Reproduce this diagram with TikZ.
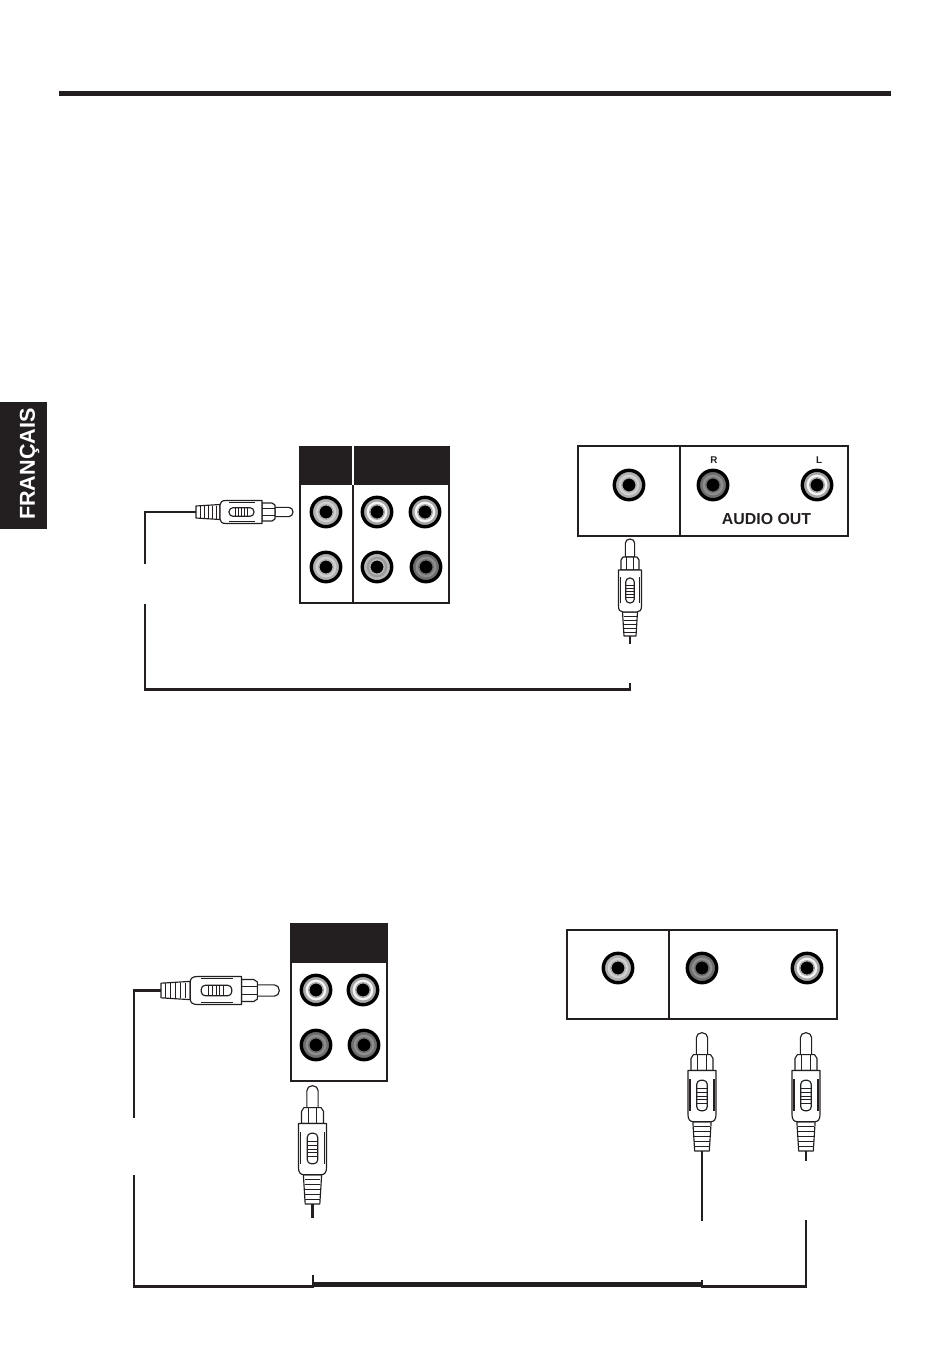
\documentclass[tikz,border=0pt]{standalone}
\usepackage{fontspec}
\setmainfont{Liberation Sans}
\definecolor{ink}{HTML}{231F20}
\definecolor{ringlight}{HTML}{B0B0B0}
\definecolor{midlight}{HTML}{D0D0D0}
\definecolor{ringpale}{HTML}{A6A6A6}
\definecolor{midpale}{HTML}{F4F4F4}
\definecolor{ringdark}{HTML}{6E6E6E}
\definecolor{middark}{HTML}{8E8E8E}
\definecolor{ringmid}{HTML}{B8B8B8}
\definecolor{midmid}{HTML}{9A9A9A}
\tikzset{
  wire/.style={draw=ink,line width=2.2pt},
  panel/.style={draw=ink,line width=2.2pt},
  plugline/.style={draw=ink,line width=1.15pt,fill=white,line join=round},
  jacklabel/.style={text=ink,inner sep=0pt},
}
% jack: x, y, ring colour, inner colour
\newcommand{\jack}[4]{
  \fill[#3,draw=black,line width=3.4pt] (#1,#2) circle (14.7);
  \fill[#4] (#1,#2) circle (10.4);
  \fill[black,draw=#3,line width=1.4pt] (#1,#2) circle (7.2);
}
% plug: tail x, tail y, rotation, scale
\newcommand{\plug}[4]{
  \begin{scope}[shift={(#1,#2)},rotate=#3,scale=#4]
    \draw[plugline] (79,-4.6) -- (93,-4.6) arc (90:-90:4 and -4.6) -- (79,4.6) -- cycle;
    \draw[plugline] (66,-9) -- (76,-9) -- (79,-7) -- (79,7) -- (76,9) -- (66,9) -- cycle;
    \draw[plugline] (66,-3.5) -- (79,-3.5) (66,3.5) -- (79,3.5);
    \draw[plugline] (0,-6) -- (24,-7.5) -- (24,7.5) -- (0,6) -- cycle;
    \foreach \ridge in {4,8,12,16,20}
      \draw[draw=ink,line width=.8pt] (\ridge,-6.5) -- (\ridge,6.5);
    \draw[plugline] (30,-11.5) -- (66,-11.5) -- (66,11.5) -- (30,11.5)
      .. controls (26,11.5) and (24,10) .. (24,7) -- (24,-7)
      .. controls (24,-10) and (26,-11.5) .. (30,-11.5) -- cycle;
    \draw[plugline] (33,-9.8) -- (59,-9.8) (33,9.8) -- (59,9.8);
    \draw[plugline,rounded corners=4] (33,-4.3) rectangle (58,4.3);
    \foreach \ridge in {39,42,45,48,51}
      \draw[draw=ink,line width=.7pt] (\ridge,-4.3) -- (\ridge,4.3);
  \end{scope}
}
\begin{document}
\begin{tikzpicture}[x=1pt,y=-1pt]
  \useasboundingbox (0,0) rectangle (950,1353);
  \fill[white] (0,0) rectangle (950,1353);
  \fill[ink] (59,91) rectangle (891,96);
  % side tab
  \fill[ink] (0,402) rectangle (47,529);
  \node[rotate=90,font=\bfseries\fontsize{21.6}{22}\selectfont,text=white,inner sep=0pt] (tabtext) at (29.5,464) {FRANÇAIS};

  % upper hookup
  \fill[ink] (300,447) rectangle (449,485);
  \draw[panel] (300,447) rectangle (449,603);
  \draw[panel] (353,485) -- (353,603);
  \draw[white,line width=2pt] (353,446) -- (353,485);
  \jack{326}{512}{ringlight}{midlight}
  \jack{326}{567}{ringlight}{midlight}
  \jack{377}{512}{ringpale}{midpale}
  \jack{425}{512}{ringpale}{midpale}
  \jack{377}{567}{ringmid}{midmid}
  \jack{426}{567}{ringdark}{middark}

  \draw[panel] (578,446) rectangle (848,536);
  \draw[panel] (680,446) -- (680,536);
  \jack{629}{485}{ringlight}{midlight}
  \jack{713}{485}{ringdark}{middark}
  \jack{817}{485}{ringpale}{midpale}
  \node[jacklabel,font=\bfseries\fontsize{9.8}{10}\selectfont] (labelR) at (714,460) {R};
  \node[jacklabel,font=\bfseries\fontsize{9.8}{10}\selectfont] (labelL) at (819,460) {L};
  \node[jacklabel,font=\bfseries\fontsize{15.9}{16}\selectfont] (labelAudio) at (766.5,519) {AUDIO OUT};

  \plug{196}{512}{0}{1}
  \plug{630}{636}{90}{1}

  \coordinate (plugAtail) at (196,512);
  \coordinate (cornerA) at (145,512);
  \coordinate (breakAup) at (145,564);
  \coordinate (breakAdown) at (145,604);
  \coordinate (cornerB) at (145,689.5);
  \coordinate (cornerC) at (630,689.5);
  \coordinate (stubA) at (630,683);
  \coordinate (plugBtail) at (630,636);
  \coordinate (plugBend) at (630,644);
  \draw[wire] (breakAup) -- (cornerA) -- (plugAtail);
  \draw[wire] (breakAdown) -- (cornerB) -- (cornerC) -- (stubA);
  \draw[wire] (plugBtail) -- (plugBend);

  % lower hookup
  \fill[ink] (291,924) rectangle (387,963);
  \draw[panel] (291,924) rectangle (387,1081);
  \jack{316}{990}{ringpale}{midpale}
  \jack{363}{990}{ringpale}{midpale}
  \jack{316}{1045}{ringdark}{middark}
  \jack{364}{1045}{ringdark}{middark}

  \draw[panel] (567,930) rectangle (837,1019);
  \draw[panel] (669,930) -- (669,1019);
  \jack{618}{968}{ringlight}{midlight}
  \jack{702}{968}{ringdark}{middark}
  \jack{807}{968}{ringpale}{midpale}

  \plug{161}{990.5}{0}{1.22}
  \plug{312.5}{1204}{90}{1.22}
  \plug{702}{1151}{90}{1.22}
  \plug{806}{1151}{90}{1.22}

  \coordinate (plugCtail) at (161,990.5);
  \coordinate (cornerD) at (134,990.5);
  \coordinate (breakCup) at (134,1118);
  \coordinate (breakCdown) at (134,1175);
  \coordinate (cornerE) at (134,1286.5);
  \coordinate (joinF) at (313,1286.5);
  \coordinate (stubF) at (313,1275);
  \coordinate (plugDtail) at (312.5,1204);
  \coordinate (plugDend) at (312.5,1218);
  \coordinate (thickF) at (313,1284.5);
  \coordinate (thickG) at (702,1284.5);
  \coordinate (joinG) at (702,1286.5);
  \coordinate (stubG) at (702,1280);
  \coordinate (cornerH) at (806,1286.5);
  \coordinate (breakHup) at (806,1220);
  \coordinate (plugEtail) at (702,1151);
  \coordinate (plugEend) at (702,1221);
  \coordinate (plugFtail) at (806,1151);
  \coordinate (plugFend) at (806,1161);
  \draw[wire] (breakCup) -- (cornerD) -- (plugCtail);
  \draw[wire] (breakCdown) -- (cornerE) -- (joinF) -- (stubF);
  \draw[wire] (plugDtail) -- (plugDend);
  \draw[wire,line width=4.4pt] (thickF) -- (thickG);
  \draw[wire] (stubG) -- (joinG) -- (cornerH) -- (breakHup);
  \draw[wire] (plugEtail) -- (plugEend);
  \draw[wire] (plugFtail) -- (plugFend);
\end{tikzpicture}
\end{document}
